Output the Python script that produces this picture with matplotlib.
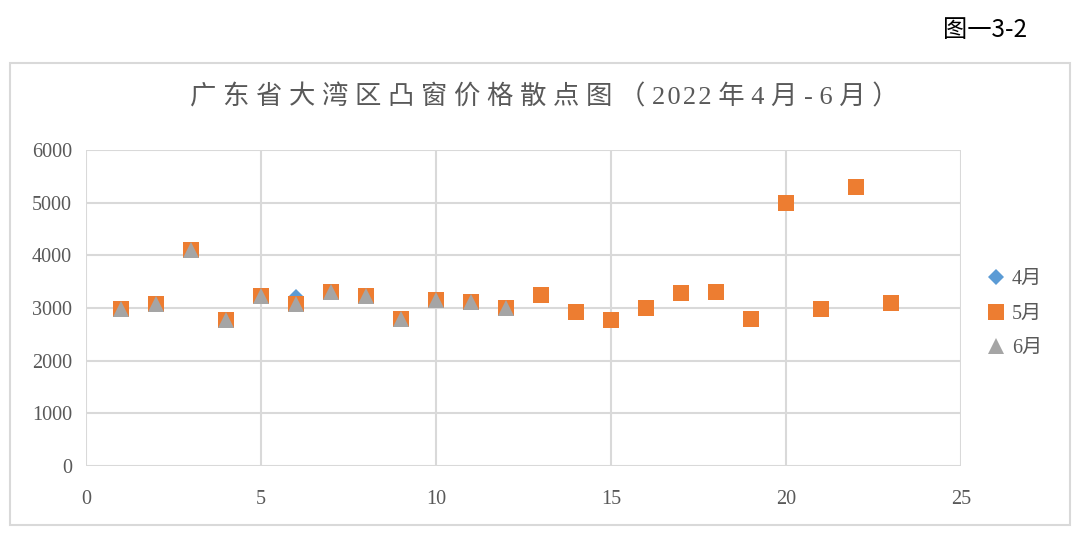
import matplotlib
matplotlib.use("Agg")
import matplotlib.pyplot as plt
from matplotlib.patches import Rectangle

# data (x = sample number, y = price)
x_all = list(range(1, 24))
may = [2980, 3070, 4110, 2770, 3230, 3080, 3310, 3235, 2790, 3150, 3110, 3005,
       3250, 2920, 2770, 3005, 3280, 3300, 2790, 4990, 2980, 5300, 3100]
april = list(may)
april[5] = 3200
june_x = list(range(1, 13))
june = [2980, 3080, 4110, 2770, 3230, 3070, 3310, 3235, 2790, 3150, 3120, 3000]

series = [("4月", april, x_all, "D", "#5B9BD5", 8.5),
          ("5月", may, x_all, "s", "#ED7D31", 11.5),
          ("6月", june, june_x, "^", "#A5A5A5", 11.5)]

title_raw = "广东省大湾区凸窗价格散点图（2022年4月-6月）"
num_font = ["Liberation Serif", "Noto Sans CJK SC", "DejaVu Sans"]
grey_txt = "#595959"
grid_col = "#D9D9D9"

# letter spaced title, like the original chart
title = ""
for i, ch in enumerate(title_raw):
    title += ch
    if i < len(title_raw) - 1:
        if ch.isdigit() and title_raw[i + 1].isdigit():
            title += "\u200a"
        else:
            title += " "

fig = plt.figure(figsize=(10.8, 5.38), dpi=100)

# outer chart frame
fig.patches.append(Rectangle((10 / 1080, 13 / 538), 1060 / 1080, 462 / 538,
                             transform=fig.transFigure, fill=False,
                             edgecolor=grid_col, linewidth=1.5))

ax = fig.add_axes([86 / 1080, 72 / 538, 875 / 1080, 316 / 538])
for name, ys, xs, mk, col, ms in series:
    ax.plot(xs, ys, linestyle="none", marker=mk, markersize=ms,
            color=col, markeredgewidth=0, label=name)

ax.set_xlim(0, 25)
ax.set_ylim(0, 6000)
ax.set_xticks(range(0, 26, 5))
ax.set_yticks(range(0, 6001, 1000))
ax.grid(True, color=grid_col, linewidth=1.5)
ax.set_axisbelow(True)
for s in ax.spines.values():
    s.set_visible(False)
ax.tick_params(length=0, pad=10, labelcolor=grey_txt, labelsize=14.5)
for lab in ax.get_xticklabels() + ax.get_yticklabels():
    lab.set_family(num_font)
ax.tick_params(axis="x", pad=17)

fig.text(544 / 1080, 1 - 97 / 538, title, ha="center", va="center",
         fontsize=19, color=grey_txt, family=num_font)
fig.text(985 / 1080, 1 - 30 / 538, "图一3-2", ha="center", va="center",
         fontsize=17.5, color="black", family=["Noto Sans CJK SC", "DejaVu Sans"])

leg = ax.legend(loc="center left", bbox_to_anchor=(1.005, 0.481), frameon=False,
                prop={"family": num_font, "size": 14.5}, labelcolor=grey_txt,
                handletextpad=0.2, labelspacing=0.75, handlelength=1.2)

fig.savefig("out.png", dpi=100)
